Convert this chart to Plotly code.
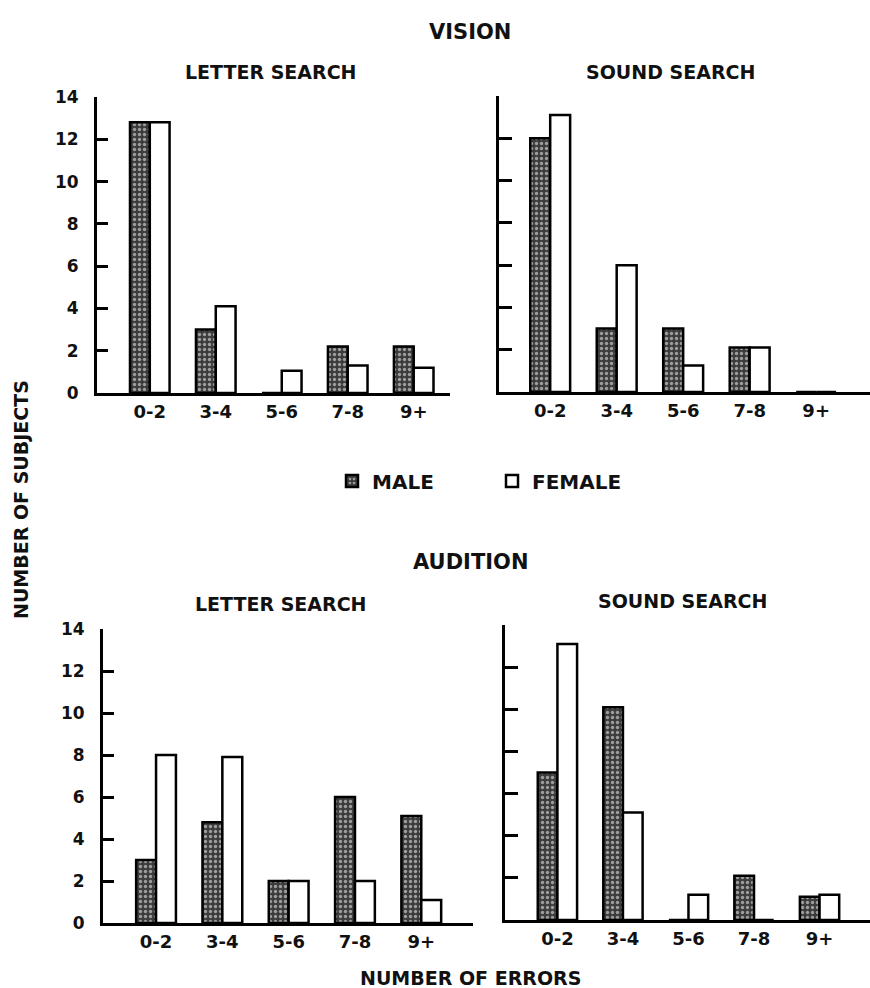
import plotly.graph_objects as go

categories = ["0-2", "3-4", "5-6", "7-8", "9+"]

vision_letter_male = [12.8, 3.0, 0, 2.2, 2.2]
vision_letter_female = [12.8, 4.1, 1.05, 1.3, 1.2]
vision_sound_male = [12.0, 3.0, 3.0, 2.1, 0]
vision_sound_female = [13.1, 6.0, 1.25, 2.1, 0]
audition_letter_male = [3.0, 4.8, 2.0, 6.0, 5.1]
audition_letter_female = [8.0, 7.9, 2.0, 2.0, 1.1]
audition_sound_male = [7.0, 10.1, 0, 2.1, 1.1]
audition_sound_female = [13.1, 5.1, 1.2, 0, 1.2]

y_ticks = [0, 2, 4, 6, 8, 10, 12, 14]

W, H = 870, 988
FONT = "DejaVu Sans"

panels = [
    # (male, female, xdomain px, ydomain px (top,bottom), xrange, show y labels)
    (vision_letter_male, vision_letter_female, (97, 450), (97, 393), (-0.8, 4.55), True),
    (vision_sound_male, vision_sound_female, (499, 870), (96, 392), (-0.77, 4.81), False),
    (audition_letter_male, audition_letter_female, (103, 473), (629, 923), (-0.8, 4.78), True),
    (audition_sound_male, audition_sound_female, (505, 870), (625, 920), (-0.8, 4.77), False),
]

fig = go.Figure()
xs = list(range(len(categories)))

for i, (m, f, xd, yd, xr, showy) in enumerate(panels):
    n = "" if i == 0 else str(i + 1)
    fig.add_trace(go.Bar(
        x=xs, y=m, name="MALE", legendgroup="m", showlegend=(i == 0),
        xaxis="x" + n, yaxis="y" + n, offsetgroup="m",
        marker=dict(color="#4a4a4a", line=dict(color="black", width=2.5),
                    pattern=dict(shape=".", fgcolor="white", bgcolor="#3c3c3c", size=5, solidity=0.35)),
    ))
    fig.add_trace(go.Bar(
        x=xs, y=f, name="FEMALE", legendgroup="f", showlegend=(i == 0),
        xaxis="x" + n, yaxis="y" + n, offsetgroup="f",
        marker=dict(color="white", line=dict(color="black", width=2.5)),
    ))
    xa = dict(domain=[xd[0] / W, xd[1] / W], range=list(xr), showgrid=False, zeroline=False,
              showline=True, linecolor="black", linewidth=3, ticks="",
              tickvals=xs, ticktext=categories, anchor="y" + n, automargin=False,
              tickfont=dict(family=FONT, size=18, color="#111", weight="bold"))
    ya = dict(domain=[1 - yd[1] / H, 1 - yd[0] / H], range=[0, 14], showgrid=False, zeroline=False,
              showline=True, linecolor="black", linewidth=3, ticks="inside",
              ticklen=(11 if showy else 13), tickwidth=2.5,
              tickcolor="black", tickvals=y_ticks, showticklabels=showy, anchor="x" + n,
              ticklabelstandoff=12, automargin=False,
              tickfont=dict(family=FONT, size=17, color="#111", weight="bold"))
    fig.layout["xaxis" + n] = xa
    fig.layout["yaxis" + n] = ya


def ann(text, x, y, size, angle=0):
    fig.add_annotation(text=text, x=x / W, y=1 - y / H, xref="paper", yref="paper",
                       showarrow=False, textangle=angle, xanchor="center", yanchor="middle",
                       font=dict(family=FONT, size=size, color="#111", weight="bold"))


ann("VISION", 470, 32, 21)
ann("LETTER SEARCH", 271, 72, 19)
ann("SOUND SEARCH", 670, 72, 19)
ann("AUDITION", 470, 562, 21)
ann("LETTER SEARCH", 281, 604, 19)
ann("SOUND SEARCH", 682, 601, 19)
ann("NUMBER OF ERRORS", 470, 978, 19)
ann("NUMBER OF SUBJECTS", 21, 500, 19, angle=-90)

fig.update_layout(
    width=W, height=H, margin=dict(l=0, r=0, t=0, b=0, autoexpand=False),
    paper_bgcolor="white", plot_bgcolor="white",
    barmode="group", bargap=0.4, bargroupgap=0,
    legend=dict(orientation="h", x=332 / W, y=1 - 481 / H, xanchor="left", yanchor="middle",
                font=dict(family=FONT, size=20, color="#111", weight="bold"),
                itemwidth=30, entrywidth=115, entrywidthmode="pixels",
                bgcolor="rgba(0,0,0,0)"),
)

fig.write_html("out.html", config={"displayModeBar": False},
               post_script="document.body.style.margin='0';document.body.style.overflow='hidden';")
